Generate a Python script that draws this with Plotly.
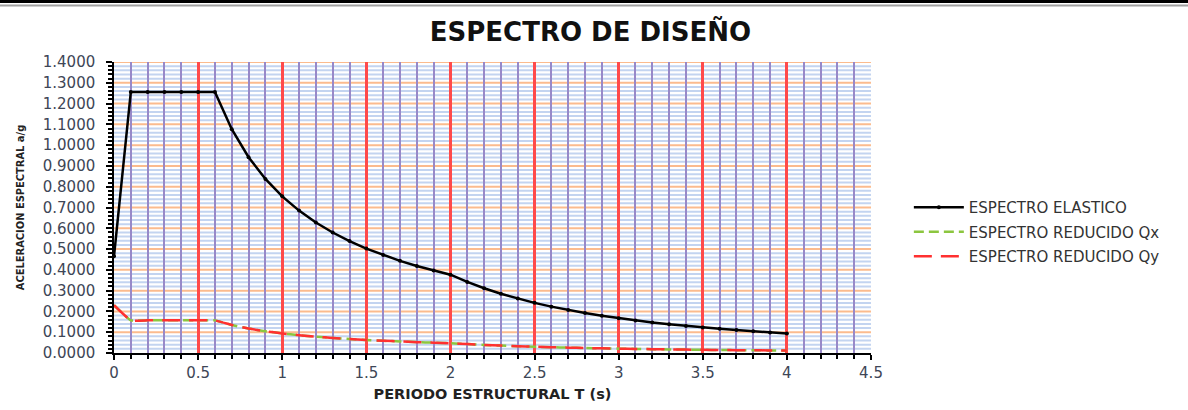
import plotly.graph_objects as go

# ---- data ----
periodo_T = [0.0, 0.1, 0.2, 0.3, 0.4, 0.5, 0.6, 0.7, 0.8, 0.9, 1.0,
             1.1, 1.2, 1.3, 1.4, 1.5, 1.6, 1.7, 1.8, 1.9, 2.0,
             2.1, 2.2, 2.3, 2.4, 2.5, 2.6, 2.7, 2.8, 2.9, 3.0,
             3.1, 3.2, 3.3, 3.4, 3.5, 3.6, 3.7, 3.8, 3.9, 4.0]

espectro_elastico = [0.4650, 1.2560, 1.2560, 1.2560, 1.2560, 1.2560, 1.2560, 1.0766, 0.9420, 0.8373, 0.7536,
                     0.6851, 0.6280, 0.5797, 0.5383, 0.5024, 0.4710, 0.4433, 0.4187, 0.3966, 0.3768,
                     0.3418, 0.3114, 0.2849, 0.2617, 0.2412, 0.2230, 0.2067, 0.1922, 0.1792, 0.1675,
                     0.1568, 0.1472, 0.1384, 0.1304, 0.1231, 0.1163, 0.1101, 0.1044, 0.0991, 0.0942]

espectro_qx = [0.2300, 0.1570, 0.1570, 0.1570, 0.1570, 0.1570, 0.1570, 0.1346, 0.1178, 0.1047, 0.0942,
               0.0856, 0.0785, 0.0725, 0.0673, 0.0628, 0.0589, 0.0554, 0.0523, 0.0496, 0.0471,
               0.0427, 0.0389, 0.0356, 0.0327, 0.0302, 0.0279, 0.0258, 0.0240, 0.0224, 0.0209,
               0.0196, 0.0184, 0.0173, 0.0163, 0.0154, 0.0145, 0.0138, 0.0130, 0.0124, 0.0118]

espectro_qy = [0.2300, 0.1570, 0.1570, 0.1570, 0.1570, 0.1570, 0.1570, 0.1346, 0.1178, 0.1047, 0.0942,
               0.0856, 0.0785, 0.0725, 0.0673, 0.0628, 0.0589, 0.0554, 0.0523, 0.0496, 0.0471,
               0.0427, 0.0389, 0.0356, 0.0327, 0.0302, 0.0279, 0.0258, 0.0240, 0.0224, 0.0209,
               0.0196, 0.0184, 0.0173, 0.0163, 0.0154, 0.0145, 0.0138, 0.0130, 0.0124, 0.0118]

nombres = ["ESPECTRO ELASTICO", "ESPECTRO REDUCIDO Qx", "ESPECTRO REDUCIDO Qy"]
titulo = "ESPECTRO DE DISEÑO"
titulo_x = "PERIODO ESTRUCTURAL T (s)"
titulo_y = "ACELERACION ESPECTRAL a/g"

X_MAX = 4.5
X_MAJOR = 0.5
X_MINOR = 0.1
Y_MAX = 1.4
Y_MAJOR = 0.1
Y_MINOR = 0.02

fig = go.Figure()
fig.add_trace(go.Scatter(
    x=periodo_T, y=espectro_elastico, name=nombres[0], mode="lines+markers", legendgroup="a",
    line=dict(color="black", width=2.5),
    marker=dict(color="black", size=4)))
fig.add_trace(go.Scatter(
    x=periodo_T, y=espectro_qx, name=nombres[1], mode="lines", legendgroup="b",
    line=dict(color="#8cc63f", width=2.5, dash="10px,5px", shape="spline", smoothing=0.3)))
fig.add_trace(go.Scatter(
    x=periodo_T, y=espectro_qy, name=nombres[2], mode="lines", legendgroup="c",
    line=dict(color="#ff3030", width=2.5, dash="18px,9px", shape="spline", smoothing=0.3)))

# horizontal grid lines drawn underneath the vertical (axis) grid
shapes = []
n_minor = int(round(Y_MAX / Y_MINOR))
step = int(round(Y_MAJOR / Y_MINOR))
for i in range(1, n_minor + 1):
    if i % step != 0:
        yv = i * Y_MINOR
        shapes.append(dict(type="line", xref="paper", yref="y", x0=0, x1=1, y0=yv, y1=yv,
                           layer="below", line=dict(color="#c3d4f0", width=2)))
for i in range(1, n_minor + 1):
    if i % step == 0:
        yv = i * Y_MINOR
        shapes.append(dict(type="line", xref="paper", yref="y", x0=0, x1=1, y0=yv, y1=yv,
                           layer="below", line=dict(color="#fbbb8e", width=2)))
# page border at the top
shapes.append(dict(type="line", xref="paper", yref="paper", x0=-0.2, x1=1.5,
                   y0=1 + 60.5 / 291, y1=1 + 60.5 / 291, line=dict(color="black", width=3)))
shapes.append(dict(type="line", xref="paper", yref="paper", x0=-0.2, x1=1.5,
                   y0=1 + 56.5 / 291, y1=1 + 56.5 / 291, line=dict(color="#a0a0a0", width=2)))

tick_font = dict(family="DejaVu Sans", size=15, color="#3e4656")

fig.update_layout(
    width=1188, height=410,
    margin=dict(l=114, r=317, t=62, b=57),
    paper_bgcolor="white", plot_bgcolor="white",
    title=dict(text="<b>" + titulo + "</b>", x=0.497, xanchor="center",
               y=1 - 32 / 410, yanchor="middle", yref="container",
               font=dict(family="DejaVu Sans", size=26, color="#111111")),
    showlegend=True,
    legend=dict(x=1.05, y=0.557, xanchor="left", yanchor="top", itemwidth=50,
                font=dict(family="DejaVu Sans", size=15, color="#333333"),
                bgcolor="rgba(0,0,0,0)", tracegroupgap=2),
    xaxis=dict(range=[0, X_MAX], dtick=X_MAJOR, tick0=0, showline=True, linecolor="black", linewidth=1.5,
               ticks="outside", ticklen=5, tickcolor="black", tickwidth=1.5,
               showgrid=True, gridcolor="#ff4a4a", gridwidth=2.5, zeroline=False, automargin=False,
               tickfont=tick_font,
               minor=dict(dtick=X_MINOR, tick0=0, ticks="outside", ticklen=4, tickcolor="black",
                          showgrid=True, gridcolor="#9889c8", gridwidth=2.2),
               title=dict(text="<b>" + titulo_x + "</b>", standoff=8,
                          font=dict(family="DejaVu Sans", size=14.5, color="#222222"))),
    yaxis=dict(range=[0, Y_MAX], dtick=Y_MAJOR, tick0=0, tickformat=".4f", showline=True,
               linecolor="black", linewidth=1.5,
               ticks="outside", ticklen=6, tickcolor="black", tickwidth=1.5,
               showgrid=False, zeroline=False, automargin=False,
               tickfont=tick_font, ticklabelstandoff=8,
               minor=dict(dtick=Y_MINOR, tick0=0, ticks="outside", ticklen=4, tickcolor="black",
                          showgrid=False),
               title=dict(text="<b>" + titulo_y + "</b>", standoff=16,
                          font=dict(family="Liberation Sans Narrow, DejaVu Sans Condensed, sans-serif",
                                    size=11, color="#222222"))),
    shapes=shapes,
)

fig.write_html("out.html", config={"displayModeBar": False},
               post_script="document.body.style.margin='0px';")
